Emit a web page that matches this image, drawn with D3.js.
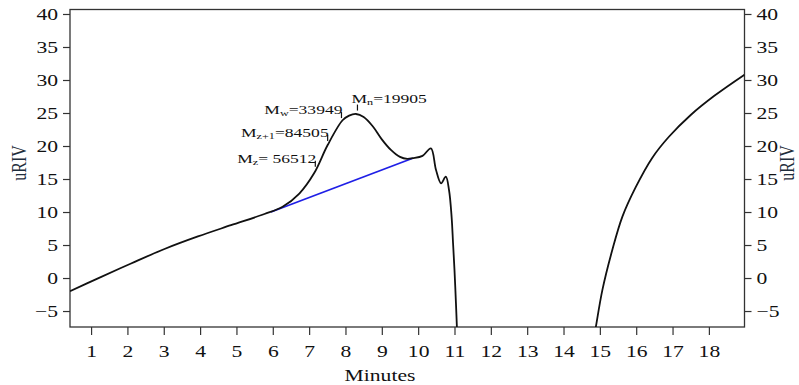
<!DOCTYPE html>
<html>
<head>
<meta charset="utf-8">
<script src="https://cdn.jsdelivr.net/npm/d3@7"></script>
<style>
  body { margin: 0; background: #fff; }
  svg text { font-family: "Liberation Serif", "Times New Roman", serif; }
</style>
</head>
<body>
<div id="graph"></div>
<script>
// elution trace, minutes vs uRIV (first part, before the solvent dip)
var traceMinutesA = [0.42, 1.19, 2.1, 3.02, 3.94, 4.85, 5.77, 6.27, 6.73, 7.14, 7.51, 7.92,
  8.1, 8.29, 8.5, 8.75, 9.0, 9.25, 9.5, 9.7, 9.85, 10.12, 10.35, 10.49, 10.63, 10.76,
  10.85, 10.92, 10.96, 11.0, 11.04, 11.07];
var traceValuesA = [-2.0, -0.05, 2.2, 4.4, 6.3, 8.0, 9.7, 10.8, 12.8, 15.9, 20.15, 23.9,
  24.6, 24.85, 24.4, 23.0, 21.0, 19.4, 18.35, 18.05, 18.15, 18.5, 19.65, 16.4, 14.35, 15.35,
  13.3, 9.3, 5.3, 1.2, -3.8, -8.0];
// trace after the dip
var traceMinutesB = [14.87, 14.89, 15.07, 15.34, 15.62, 15.99, 16.44, 16.9, 17.5, 18.15, 18.98];
var traceValuesB = [-8.0, -7.4, -1.8, 4.2, 9.3, 13.8, 18.2, 21.4, 24.7, 27.6, 30.8];

// baseline drawn under the peak
var baseMinutes = [5.95, 9.85];
var baseValues = [10.0, 18.15];

// molecular weight averages marked on the peak
var markNames = ["z", "z+1", "w", "n"];
var markLabels = ["= 56512", "=84505", "=33949", "=19905"];
var markMinutes = [7.17, 7.51, 7.89, 8.33];

var xTicks = d3.range(1, 19);
var yTicks = d3.range(-5, 41, 5);

var W = 799, H = 385;
var margin = {top: 9.5, right: 54.5, bottom: 58, left: 70};
var sx = 1.35; // the original text is stretched sideways

var x = d3.scaleLinear().domain([0.42, 18.98]).range([margin.left, W - margin.right]);
var y = d3.scaleLinear().domain([-7.42, 40.68]).range([H - margin.bottom, margin.top]);

var svg = d3.select("#graph").append("svg")
    .attr("width", W)
    .attr("height", H);

svg.append("defs").append("clipPath").attr("id", "plotclip")
  .append("rect")
    .attr("x", x.range()[0]).attr("y", y.range()[1])
    .attr("width", x.range()[1] - x.range()[0])
    .attr("height", y.range()[0] - y.range()[1]);

// axes
var fontSize = 16;
var left = svg.append("g")
    .attr("transform", "translate(" + margin.left + ",0)")
    .call(d3.axisLeft(y).tickValues(yTicks).tickSize(7).tickSizeOuter(0));
var right = svg.append("g")
    .attr("transform", "translate(" + (W - margin.right) + ",0)")
    .call(d3.axisRight(y).tickValues(yTicks).tickSize(7).tickSizeOuter(0));
var bottom = svg.append("g")
    .attr("transform", "translate(0," + (H - margin.bottom) + ")")
    .call(d3.axisBottom(x).tickValues(xTicks).tickSize(8).tickSizeOuter(0));

[left, right, bottom].forEach(function(g) {
    g.select(".domain").remove();
    g.selectAll(".tick line").attr("stroke", "#333").attr("stroke-width", 1.2);
    g.selectAll(".tick text")
        .attr("fill", "#111")
        .style("font-size", fontSize + "px")
        .style("font-family", "'Liberation Serif', 'Times New Roman', serif");
});
left.selectAll(".tick text").attr("x", -12 / sx).attr("transform", "scale(" + sx + ",1)");
right.selectAll(".tick text").attr("x", 12 / sx).attr("transform", "scale(" + sx + ",1)");
bottom.selectAll(".tick text").attr("y", 19).attr("dy", "0.71em").attr("transform", "scale(" + sx + ",1)");

// frame
svg.append("rect")
    .attr("x", x.range()[0]).attr("y", y.range()[1])
    .attr("width", x.range()[1] - x.range()[0])
    .attr("height", y.range()[0] - y.range()[1])
    .attr("fill", "none")
    .attr("stroke", "#333")
    .attr("stroke-width", 1.3);

// titles
function stretchedText(px, py, rot) {
    return svg.append("text")
        .attr("transform", "translate(" + px + "," + py + ") rotate(" + rot + ") scale(" + (rot ? 1 : sx) + "," + (rot ? sx : 1) + ")")
        .attr("text-anchor", "middle")
        .style("font-size", fontSize + "px");
}
stretchedText(380, 381, 0).attr("fill", "#111").text("Minutes");
stretchedText(26, 163, -90).attr("fill", "#1f2d3d").text("uRIV");
stretchedText(794, 163, -90).attr("fill", "#1f2d3d").text("uRIV");

// curves
var plot = svg.append("g").attr("clip-path", "url(#plotclip)");
var straight = d3.line()
    .x(function(d) { return x(d[0]); })
    .y(function(d) { return y(d[1]); });
var smooth = d3.line()
    .x(function(d) { return x(d[0]); })
    .y(function(d) { return y(d[1]); })
    .curve(d3.curveCatmullRom.alpha(0.5));

plot.append("path")
    .datum(d3.zip(baseMinutes, baseValues))
    .attr("d", straight)
    .attr("fill", "none")
    .attr("stroke", "#1f1fe6")
    .attr("stroke-width", 1.8);

[d3.zip(traceMinutesA, traceValuesA), d3.zip(traceMinutesB, traceValuesB)].forEach(function(seg) {
    plot.append("path")
        .datum(seg)
        .attr("d", smooth)
        .attr("fill", "none")
        .attr("stroke", "#111")
        .attr("stroke-width", 1.8)
        .attr("stroke-linejoin", "round");
});

// markers: value of the trace at a given minute
function traceAt(m) {
    var i = d3.bisectLeft(traceMinutesA, m);
    var t = (m - traceMinutesA[i - 1]) / (traceMinutesA[i] - traceMinutesA[i - 1]);
    return traceValuesA[i - 1] + t * (traceValuesA[i] - traceValuesA[i - 1]);
}

markMinutes.forEach(function(m, i) {
    var px = x(m), py = y(traceAt(m)) - 4;
    svg.append("line")
        .attr("x1", px).attr("x2", px)
        .attr("y1", py).attr("y2", py - 6)
        .attr("stroke", "#111").attr("stroke-width", 1.2);
    var last = i === markMinutes.length - 1;
    var t = svg.append("text")
        .attr("transform", "translate(" + (last ? px - 6 : px + 1) + "," + (last ? py - 8 : py - 4) + ") scale(" + sx + ",1)")
        .attr("text-anchor", last ? "start" : "end")
        .attr("fill", "#111")
        .style("font-size", "13px");
    t.append("tspan").text("M");
    t.append("tspan").attr("dy", 2).style("font-size", "9px").text(markNames[i]);
    t.append("tspan").attr("dy", -2).text(markLabels[i]);
});
</script>
</body>
</html>
